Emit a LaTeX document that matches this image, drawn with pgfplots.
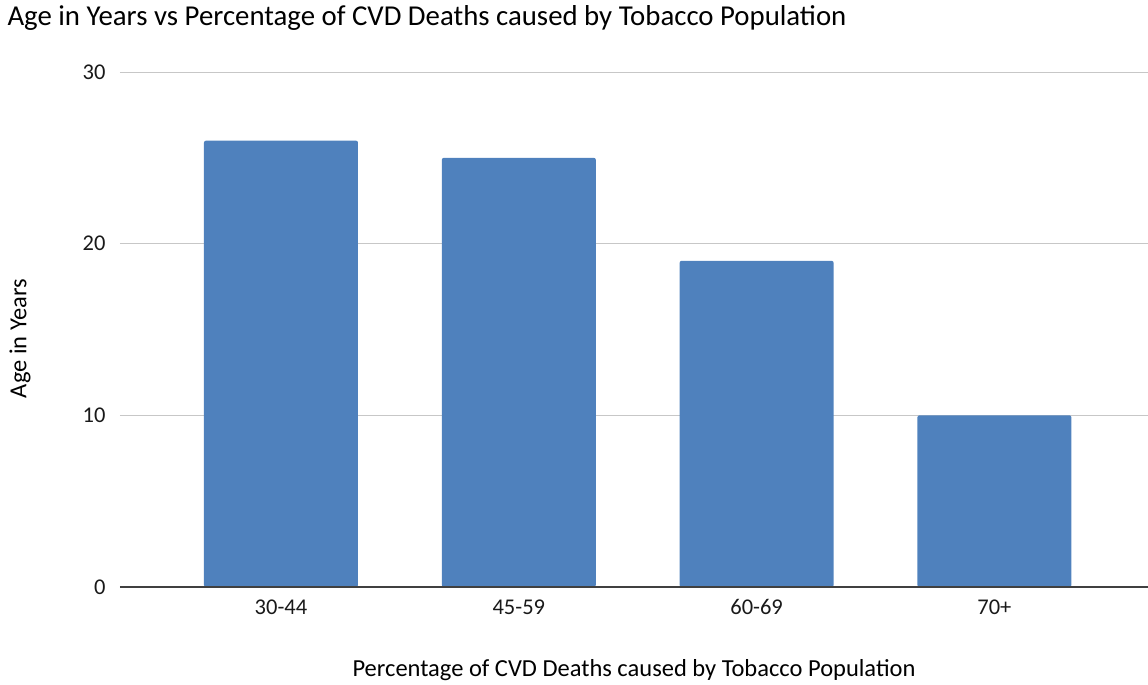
\documentclass[border=0pt]{standalone}
\usepackage{fontspec}
\setmainfont{Carlito}
\usepackage{pgfplots}
\pgfplotsset{compat=1.18}
\definecolor{barblue}{HTML}{4F81BD}
\begin{document}
\begin{tikzpicture}[x=1pt,y=1pt]
\path[use as bounding box] (-120,-98) rectangle (1028,587);
\begin{axis}[
  scale only axis,
  width=1028pt, height=515pt,
  anchor=south west, at={(0,0)},
  xmin=-0.677, xmax=3.646,
  ymin=0, ymax=30,
  ytick={0,10,20,30},
  xtick={0,1,2,3},
  xticklabels={30-44,45-59,60-69,70+},
  axis line style={draw=none},
  ymajorgrids, grid style={draw=black!22, line width=0.8pt},
  major tick length=0pt,
  tick label style={font=\fontsize{22.5}{26}\selectfont, text=black!90},
  /pgf/number format/assume math mode=true,
  yticklabel style={xshift=-11pt},
  xticklabel style={yshift=-9pt},
  xlabel={Percentage of CVD Deaths caused by Tobacco Population},
  ylabel={Age in Years},
  label style={font=\fontsize{24.5}{28}\selectfont},
  xlabel style={at={(axis description cs:0.5,0)}, anchor=center, yshift=-83pt},
  ylabel style={at={(axis description cs:0,0.5)}, anchor=center, yshift=100pt, xshift=-9pt},
  clip=false,
]
\addplot[ybar, bar width=154pt, fill=barblue, draw=none, rounded corners=2pt] coordinates {(0,26) (1,25) (2,19) (3,10)};
\draw[black!75, line width=1.2pt] (axis cs:-0.677,0) -- (axis cs:3.646,0);
\end{axis}
\node[anchor=base west, font=\fontsize{28.8}{32}\selectfont] at (-116,561) {Age in Years vs Percentage of CVD Deaths caused by Tobacco Population};
\end{tikzpicture}
\end{document}
